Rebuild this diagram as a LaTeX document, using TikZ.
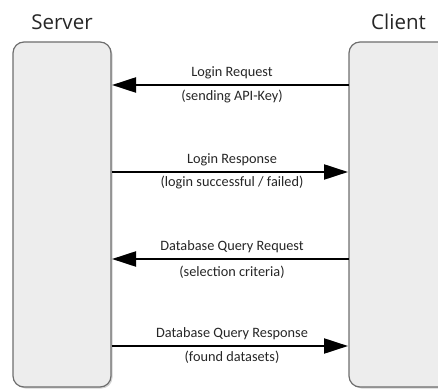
\documentclass[tikz,border=0pt]{standalone}
\usepackage{fontspec}
\setmainfont{Carlito}
\newfontfamily\titlefont{Open Sans}
\usetikzlibrary{arrows.meta,shadows}
\definecolor{boxfill}{HTML}{EDEDED}
\definecolor{boxline}{HTML}{6E6E6E}
\tikzset{
  lifebox/.style={draw=boxline, line width=1.2pt, fill=boxfill, rounded corners=11pt,
    drop shadow={shadow xshift=1.5pt, shadow yshift=-1.5pt, opacity=0.35}},
  msg/.style={line width=2.2pt, -{Triangle[length=24pt,width=15pt]}, shorten >=0.5pt},
  lbl/.style={font=\fontsize{14.3}{16}\selectfont, inner sep=0pt, text=black!85},
  title/.style={font=\titlefont\fontsize{20.5}{24}\selectfont, inner sep=0pt, text=black!85}
}
\begin{document}
\begin{tikzpicture}[x=1pt,y=1pt]
\useasboundingbox (0,0) rectangle (438,388);
\begin{scope}
\clip (0,0) rectangle (438,388);
\draw[lifebox] (13,1) rectangle (111,346);
\draw[lifebox] (349,1) rectangle (470,346);
\end{scope}
\node[title, anchor=base] (srv) at (62,358) {Server};
\node[title, anchor=base] (cli) at (398.5,358) {Client};
% anchor coordinates on lifelines
\coordinate (c1) at (348.5,303);
\coordinate (s1) at (111.5,303);
\coordinate (s2) at (111.5,216);
\coordinate (c2) at (348.5,216);
\coordinate (c3) at (348.5,129);
\coordinate (s3) at (111.5,129);
\coordinate (s4) at (111.5,42);
\coordinate (c4) at (348.5,42);
\draw[msg] (c1) -- (s1);
\draw[msg] (s2) -- (c2);
\draw[msg] (c3) -- (s3);
\draw[msg] (s4) -- (c4);
\node[lbl] (l1) at (232,315) {Login Request};
\node[lbl] (l1b) at (232,291) {(sending API-Key)};
\node[lbl] (l2) at (232,228) {Login Response};
\node[lbl] (l2b) at (232,205) {(login successful / failed)};
\node[lbl] (l3) at (232,141) {Database Query Request};
\node[lbl] (l3b) at (232,116) {(selection criteria)};
\node[lbl] (l4) at (232,54) {Database Query Response};
\node[lbl] (l4b) at (232,31) {(found datasets)};
\end{tikzpicture}
\end{document}
